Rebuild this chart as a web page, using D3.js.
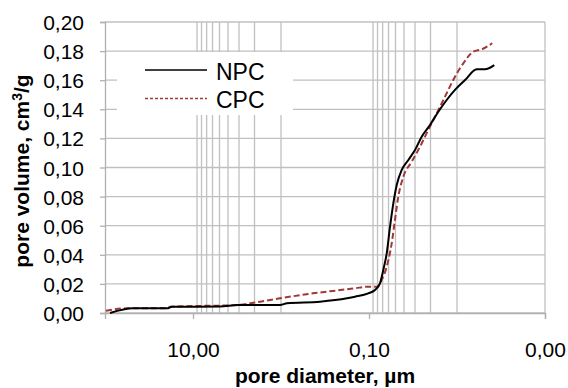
<!DOCTYPE html>
<html>
<head>
<meta charset="utf-8">
<script src="https://cdn.jsdelivr.net/npm/d3@7"></script>
<style>
  body { margin: 0; background: #fff; }
  text { font-family: Arial, "Liberation Sans", sans-serif; fill: #000; }
</style>
</head>
<body>
<div id="chart"></div>
<script>
// pore diameter (µm) and cumulative pore volume (cm3/g)
let npcDiameter = [87.7, 48.1, 19.7, 17.3, 4.93, 3.08, 1.03, 0.855, 0.361, 0.178, 0.144, 0.102, 0.0855,
                   0.075, 0.0688, 0.0629, 0.0577, 0.0529, 0.0484, 0.0425, 0.0357, 0.030, 0.0252, 0.0203,
                   0.0163, 0.0131, 0.01054, 0.0081, 0.00597, 0.00481, 0.00377]
let npcVolume   = [0.000, 0.0032, 0.0032, 0.0043, 0.0044, 0.0055, 0.0055, 0.0067, 0.0078, 0.0101, 0.0112, 0.0135, 0.0158,
                   0.0204, 0.0296, 0.0410, 0.0593, 0.0754, 0.0880, 0.0983, 0.1052, 0.112, 0.1212, 0.1292,
                   0.1383, 0.1464, 0.1533, 0.1601, 0.1675, 0.1675, 0.1704]

let cpcDiameter = [97.5, 56.2, 19.7, 18.2, 3.08, 1.73, 1.03, 0.433, 0.178, 0.144, 0.102, 0.0817, 0.0718,
                   0.0629, 0.0552, 0.0507, 0.0465, 0.0407, 0.0327, 0.0263, 0.0212, 0.0170, 0.01368, 0.01054,
                   0.00848, 0.00653, 0.00524, 0.00397]
let cpcVolume   = [0.0016, 0.0032, 0.0032, 0.0043, 0.0055, 0.0078, 0.0101, 0.0135, 0.0163, 0.0170, 0.0181, 0.0181, 0.0227,
                   0.0318, 0.0479, 0.0639, 0.0799, 0.0937, 0.1040, 0.1143, 0.1258, 0.1372, 0.1487, 0.1624,
                   0.1716, 0.1796, 0.1812, 0.1854]

let xDomain = [100, 0.001]
let xTicks = [10, 0.1, 0.001]
let xGrid = [9, 8, 7, 6, 5, 4, 3, 2, 1, 0.09, 0.08, 0.07, 0.06, 0.05, 0.04, 0.03, 0.02, 0.01]
let yTicks = [0, 0.02, 0.04, 0.06, 0.08, 0.10, 0.12, 0.14, 0.16, 0.18, 0.20]

let seriesNames = ["NPC", "CPC"]

class PoreChart {

  constructor() {
    this.svgWidth = 568;
    this.svgHeight = 388;
    this.margin = {top: 22, right: 23, bottom: 75, left: 105};
    this.svg = d3.select("#chart").append("svg")
      .attr("width", this.svgWidth)
      .attr("height", this.svgHeight);
  }

  draw() {
    let THIS = this
    let m = this.margin
    let comma = v => d3.format(".2f")(v).replace(".", ",")

    let xScale = d3.scaleLog()
      .domain(xDomain)
      .range([m.left, this.svgWidth - m.right])
    let yScale = d3.scaleLinear()
      .domain([0, 0.2])
      .range([this.svgHeight - m.bottom, m.top])

    let grid = this.svg.append("g").attr("stroke", "#c0c0c0").attr("stroke-width", 1.3)
    // horizontal gridlines
    grid.selectAll(".hg").data(yTicks).enter().append("line")
      .attr("x1", m.left).attr("x2", this.svgWidth - m.right)
      .attr("y1", d => yScale(d)).attr("y2", d => yScale(d))
    // vertical gridlines (minor only, like the original)
    grid.selectAll(".vg").data(xGrid).enter().append("line")
      .attr("x1", d => xScale(d)).attr("x2", d => xScale(d))
      .attr("y1", yScale(0)).attr("y2", yScale(0.2))
    // right border
    grid.append("line")
      .attr("x1", this.svgWidth - m.right).attr("x2", this.svgWidth - m.right)
      .attr("y1", yScale(0)).attr("y2", yScale(0.2))

    // y axis
    let yAxis = d3.axisLeft(yScale).tickValues(yTicks).tickSize(5).tickFormat(comma)
    let yG = this.svg.append("g").attr("transform", "translate(" + m.left + ",0)").call(yAxis)
    yG.select(".domain").attr("stroke", "#b0b0b0").attr("stroke-width", 1.3)
    yG.selectAll(".tick line").attr("stroke", "#b0b0b0").attr("stroke-width", 1.3)
    yG.selectAll(".tick text").attr("x", -21).attr("dy", "0.36em")
      .style("font-size", "21px").style("font-family", "Arial, 'Liberation Sans', sans-serif")

    // x axis
    let xAxis = d3.axisBottom(xScale).tickValues(xTicks).tickSize(6).tickFormat(comma)
    let xG = this.svg.append("g").attr("transform", "translate(0," + yScale(0) + ")").call(xAxis)
    xG.select(".domain").attr("stroke", "#b0b0b0").attr("stroke-width", 1.3)
    xG.selectAll(".tick line").attr("stroke", "#b0b0b0").attr("stroke-width", 1.3)
    xG.selectAll(".tick text").attr("y", 44).attr("dy", 0)
      .style("font-size", "21px").style("font-family", "Arial, 'Liberation Sans', sans-serif")

    // legend box
    let leg = this.svg.append("g")
    leg.append("rect").attr("x", 117).attr("y", 52).attr("width", 176).attr("height", 63).attr("fill", "#fff")

    // curves
    let line = d3.line()
      .x(d => xScale(d[0]))
      .y(d => yScale(d[1]))
      .curve(d3.curveMonotoneX)
    let npc = d3.zip(npcDiameter, npcVolume)
    let cpc = d3.zip(cpcDiameter, cpcVolume)

    this.svg.append("path").datum(cpc)
      .attr("d", line).attr("fill", "none")
      .attr("stroke", "#a03836").attr("stroke-width", 2).attr("stroke-dasharray", "6,3")
    this.svg.append("path").datum(npc)
      .attr("d", line).attr("fill", "none")
      .attr("stroke", "#000").attr("stroke-width", 2)

    // legend entries
    let styles = [{stroke: "#000", dash: null}, {stroke: "#a03836", dash: "3,2"}]
    seriesNames.forEach(function(name, i){
      let y = 70 + i * 28.5
      leg.append("line").attr("x1", 145).attr("x2", 207).attr("y1", y).attr("y2", y)
        .attr("stroke", styles[i].stroke).attr("stroke-width", 1.6)
        .attr("stroke-dasharray", styles[i].dash)
      leg.append("text").attr("x", 216).attr("y", y + 9.5)
        .style("font-size", "23px").text(name)
    })

    // axis titles
    this.svg.append("text")
      .attr("x", (m.left + this.svgWidth - m.right) / 2).attr("y", 383)
      .attr("text-anchor", "middle")
      .style("font-size", "21px").style("font-weight", "bold")
      .text("pore diameter, µm")

    let yt = this.svg.append("text")
      .attr("transform", "translate(29," + 171 + ") rotate(-90)")
      .attr("text-anchor", "middle")
      .style("font-size", "21px").style("font-weight", "bold")
    yt.append("tspan").text("pore volume, cm")
    yt.append("tspan").attr("dy", -7).style("font-size", "14px").text("3")
    yt.append("tspan").attr("dy", 7).text("/g")
  }
}

let chart = new PoreChart()
chart.draw()
</script>
</body>
</html>
